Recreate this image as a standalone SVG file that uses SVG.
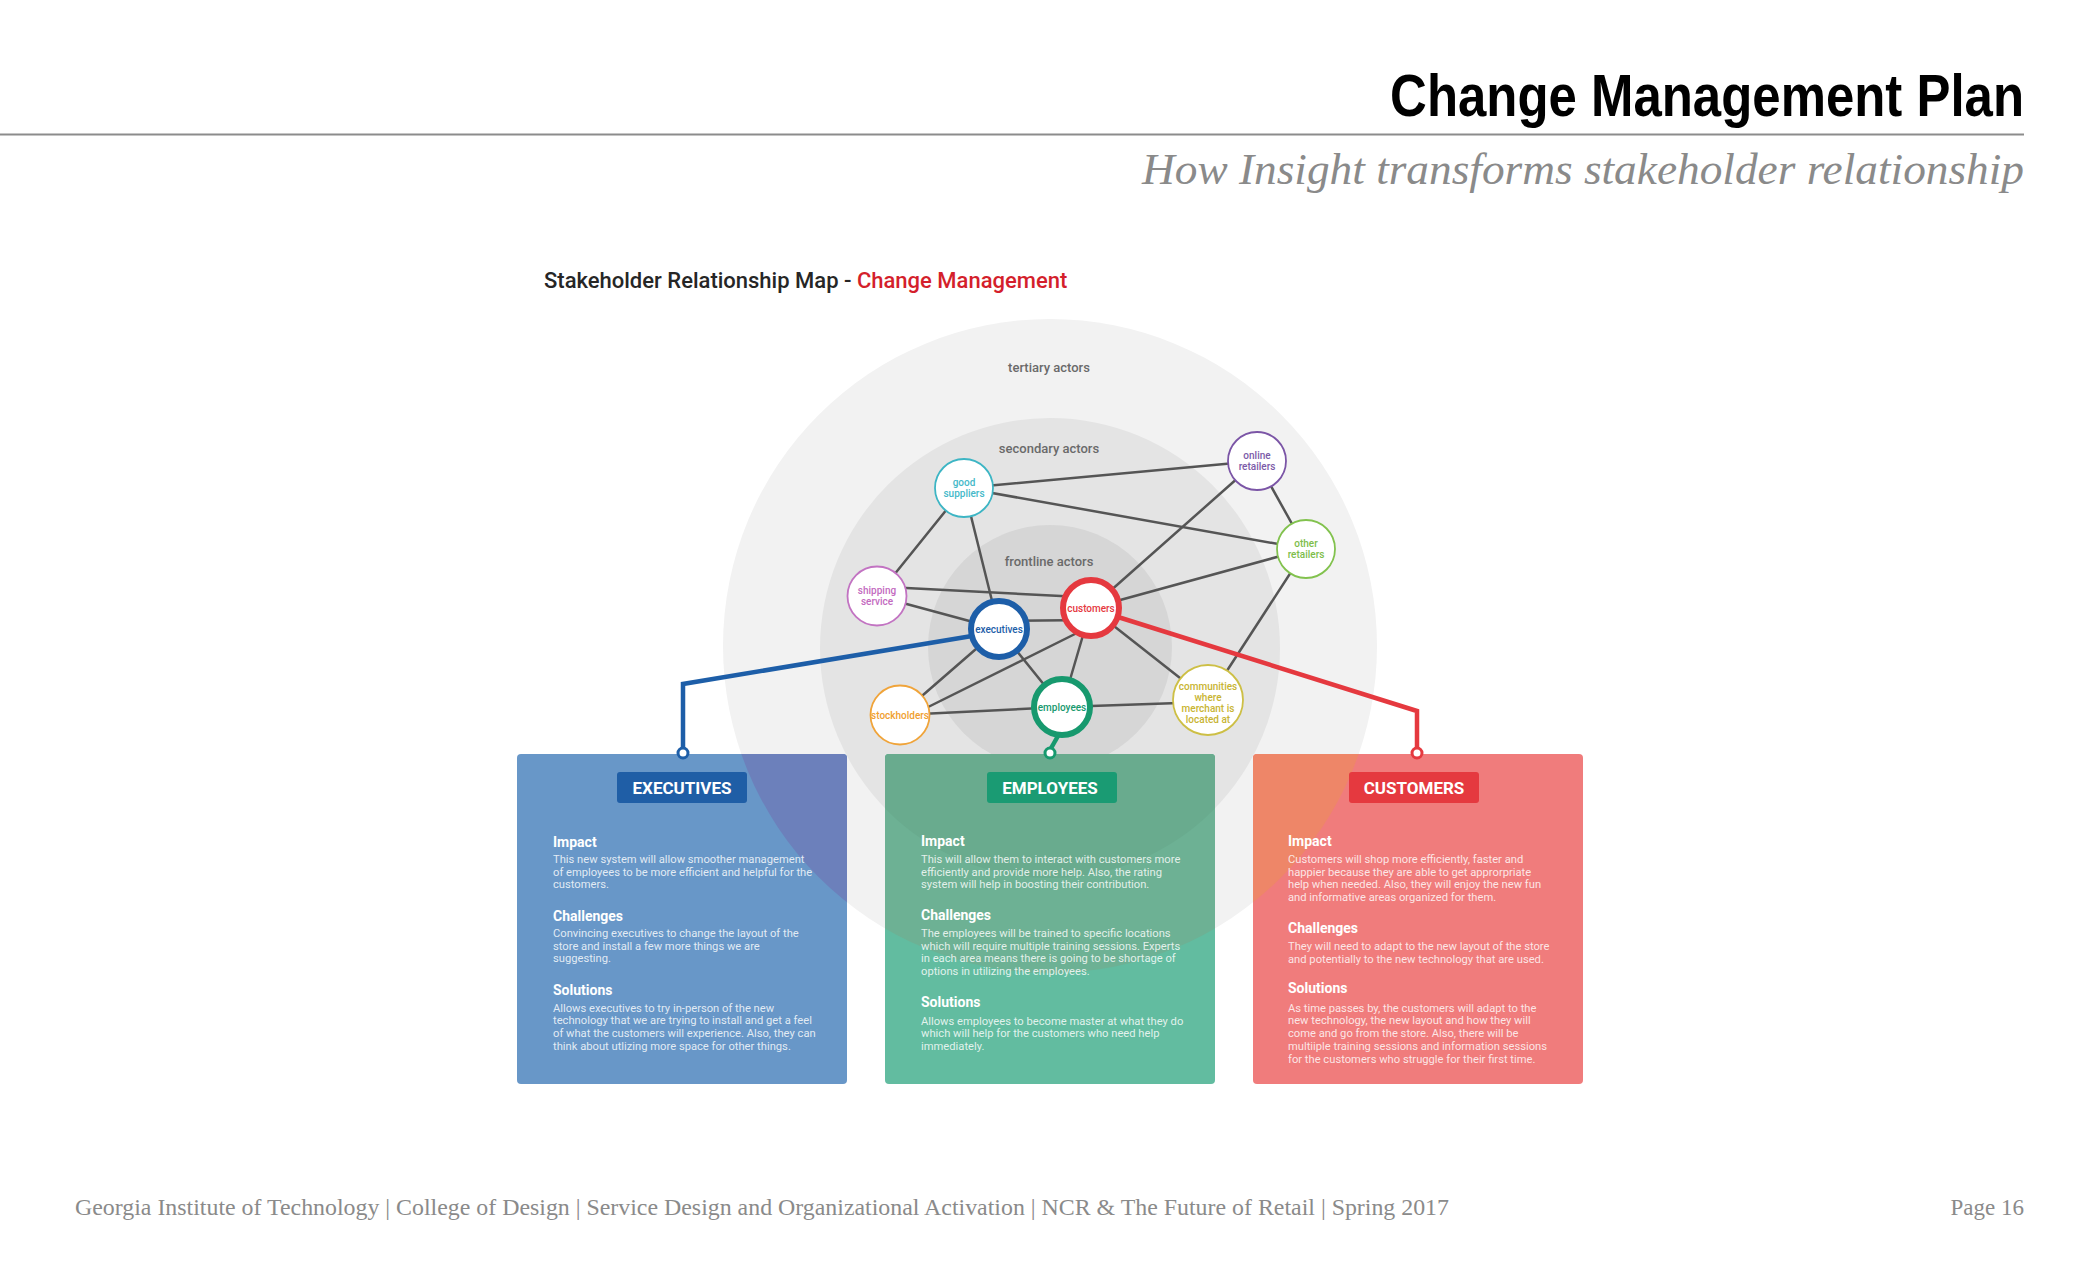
<svg xmlns="http://www.w3.org/2000/svg" width="2100" height="1275" viewBox="0 0 2100 1275">
<defs>
<style>
.title{font-family:"Liberation Sans",Arial,sans-serif;font-size:60px;font-weight:bold;fill:#000}
.subtitle{font-family:"Liberation Serif","Times New Roman",serif;font-style:italic;font-size:44px;fill:#8a8a8a}
.footer{font-family:"Liberation Serif","Times New Roman",serif;font-size:23px;fill:#8a8a8a}
.hdr{font-family:Roboto,"Liberation Sans",sans-serif;font-size:22px;font-weight:500;fill:#262626}
.ring{font-family:Roboto,"Liberation Sans",sans-serif;font-size:13px;font-weight:500;fill:#6a6a6a;text-anchor:middle}
.nl{font-family:Roboto,"Liberation Sans",sans-serif;font-size:10px;font-weight:500;text-anchor:middle}
.edge{stroke:#555;stroke-width:2.5;fill:none;stroke-linecap:round}
.thin{fill:#fff;stroke-width:1.8}
.thick{fill:#fff;stroke-width:6}
.badge{font-family:Roboto,"Liberation Sans",sans-serif;font-size:17px;font-weight:700;fill:#fff;text-anchor:middle}
.h{font-family:Roboto,"Liberation Sans",sans-serif;font-size:14px;font-weight:700;fill:#fff}
.b{font-family:Roboto,"Liberation Sans",sans-serif;font-size:11.2px;fill:#fff;fill-opacity:0.82}
.dot{fill:#fff;stroke-width:3}
</style>
<clipPath id="cOuter"><circle cx="1050" cy="646" r="327"/></clipPath>
<clipPath id="cSec"><circle cx="1050" cy="648" r="230"/></clipPath>
</defs>
<rect width="2100" height="1275" fill="#fff"/>

<g id="header">
<text class="title" transform="translate(2024,116) scale(0.849,1)" x="0" y="0" text-anchor="end">Change Management Plan</text>
<line x1="0" y1="134.5" x2="2024" y2="134.5" stroke="#8c8c8c" stroke-width="2"/>
<text class="subtitle" x="2024" y="184" text-anchor="end" textLength="882" lengthAdjust="spacingAndGlyphs">How Insight transforms stakeholder relationship</text>
</g>

<g id="map-title">
<text class="hdr" x="544" y="288">Stakeholder Relationship Map - <tspan fill="#d41f2c">Change Management</tspan></text>
</g>

<g id="rings">
<circle cx="1050" cy="646" r="327" fill="#f2f2f2"/>
<circle cx="1050" cy="648" r="230" fill="#e4e4e4"/>
<circle cx="1050" cy="647" r="122" fill="#d6d6d6"/>
<text class="ring" x="1049" y="372">tertiary actors</text>
<text class="ring" x="1049" y="453">secondary actors</text>
<text class="ring" x="1049" y="566">frontline actors</text>
</g>

<g id="connectors">
<line class="edge" x1="964" y1="488" x2="1257" y2="461"/>
<line class="edge" x1="964" y1="488" x2="1306" y2="549"/>
<line class="edge" x1="964" y1="488" x2="877" y2="596"/>
<line class="edge" x1="964" y1="488" x2="999" y2="629"/>
<line class="edge" x1="1257" y1="461" x2="1091" y2="608"/>
<line class="edge" x1="1257" y1="461" x2="1306" y2="549"/>
<line class="edge" x1="1306" y1="549" x2="1091" y2="608"/>
<line class="edge" x1="1306" y1="549" x2="1208" y2="700"/>
<line class="edge" x1="877" y1="586.5" x2="1091" y2="597.5"/>
<line class="edge" x1="877" y1="596" x2="999" y2="629"/>
<line class="edge" x1="999" y1="621" x2="1091" y2="620"/>
<line class="edge" x1="999" y1="629" x2="900" y2="715"/>
<line class="edge" x1="999" y1="629" x2="1062" y2="707"/>
<line class="edge" x1="1091" y1="626" x2="900" y2="721"/>
<line class="edge" x1="1091" y1="608" x2="1062" y2="707"/>
<line class="edge" x1="1091" y1="608" x2="1208" y2="700"/>
<line class="edge" x1="900" y1="715" x2="1062" y2="707"/>
<line class="edge" x1="1062" y1="707" x2="1208" y2="702"/>
<polyline points="972,636 683,684 683,748" fill="none" stroke="#1d5ea8" stroke-width="4.5"/>
<polyline points="1118,617 1417,711 1417,748" fill="none" stroke="#e5393f" stroke-width="4.5"/>
<line x1="1058" y1="736" x2="1050" y2="750" stroke="#17996e" stroke-width="4.5"/>
</g>

<g id="node-good-suppliers">
<circle class="thin" cx="964" cy="488" r="29" stroke="#3db5c4"/>
<text class="nl" fill="#45b9c9"><tspan x="964" y="486">good</tspan><tspan x="964" y="497">suppliers</tspan></text>
</g>
<g id="node-online-retailers">
<circle class="thin" cx="1257" cy="461" r="29" stroke="#7b55a6"/>
<text class="nl" fill="#7b5aa8"><tspan x="1257" y="459">online</tspan><tspan x="1257" y="470">retailers</tspan></text>
</g>
<g id="node-other-retailers">
<circle class="thin" cx="1306" cy="549" r="29" stroke="#82c24e"/>
<text class="nl" fill="#7dbd4a"><tspan x="1306" y="547">other</tspan><tspan x="1306" y="558">retailers</tspan></text>
</g>
<g id="node-shipping-service">
<circle class="thin" cx="877" cy="596" r="29.5" stroke="#c273c2"/>
<text class="nl" fill="#c36ac0"><tspan x="877" y="594">shipping</tspan><tspan x="877" y="605">service</tspan></text>
</g>
<g id="node-stockholders">
<circle class="thin" cx="900" cy="715" r="29.5" stroke="#f0a43a"/>
<text class="nl" fill="#f0a030" x="900" y="718.5">stockholders</text>
</g>
<g id="node-communities">
<circle class="thin" cx="1208" cy="700" r="35" stroke="#cdbf45"/>
<text class="nl" fill="#c8b432"><tspan x="1208" y="690">communities</tspan><tspan x="1208" y="701">where</tspan><tspan x="1208" y="712">merchant is</tspan><tspan x="1208" y="723">located at</tspan></text>
</g>
<g id="node-executives">
<circle class="thick" cx="999" cy="629" r="28" stroke="#1d5ea8"/>
<text class="nl" fill="#1d5ea8" x="999" y="632.5">executives</text>
</g>
<g id="node-customers">
<circle class="thick" cx="1091" cy="608" r="28" stroke="#e5393f"/>
<text class="nl" fill="#e5393f" x="1091" y="611.5">customers</text>
</g>
<g id="node-employees">
<circle class="thick" cx="1062" cy="707" r="28" stroke="#17996e"/>
<text class="nl" fill="#17996e" x="1062" y="710.5">employees</text>
</g>

<g id="card-executives">
<rect x="517" y="754" width="330" height="330" rx="4" fill="#6897c8"/>
<rect x="517" y="754" width="330" height="330" rx="4" fill="#6c80bb" clip-path="url(#cOuter)"/>
<rect x="617" y="772" width="130" height="31" rx="3" fill="#1f5ea6"/>
<text class="badge" x="682" y="794">EXECUTIVES</text>
<text class="h" x="553" y="847">Impact</text>
<text class="b"><tspan x="553" y="863">This new system will allow smoother management</tspan><tspan x="553" y="876">of employees to be more efficient and helpful for the</tspan><tspan x="553" y="888">customers.</tspan></text>
<text class="h" x="553" y="921">Challenges</text>
<text class="b"><tspan x="553" y="937">Convincing executives to change the layout of the</tspan><tspan x="553" y="950">store and install a few more things we are</tspan><tspan x="553" y="962">suggesting.</tspan></text>
<text class="h" x="553" y="995">Solutions</text>
<text class="b"><tspan x="553" y="1012">Allows executives to try in-person of the new</tspan><tspan x="553" y="1024">technology that we are trying to install and get a feel</tspan><tspan x="553" y="1037">of what the customers will experience. Also, they can</tspan><tspan x="553" y="1050">think about utlizing more space for other things.</tspan></text>
<circle class="dot" cx="683" cy="753" r="5" stroke="#1d5ea8"/>
</g>

<g id="card-employees">
<rect x="885" y="754" width="330" height="330" rx="4" fill="#62bca0"/>
<rect x="885" y="754" width="330" height="330" rx="4" fill="#6db194" clip-path="url(#cOuter)"/>
<rect x="885" y="754" width="330" height="330" rx="4" fill="#69ab8e" clip-path="url(#cSec)"/>
<rect x="987" y="772" width="130" height="31" rx="3" fill="#1a9b73"/>
<text class="badge" x="1050" y="794">EMPLOYEES</text>
<text class="h" x="921" y="846">Impact</text>
<text class="b"><tspan x="921" y="863">This will allow them to interact with customers more</tspan><tspan x="921" y="876">efficiently and provide more help. Also, the rating</tspan><tspan x="921" y="888">system will help in boosting their contribution.</tspan></text>
<text class="h" x="921" y="920">Challenges</text>
<text class="b"><tspan x="921" y="937">The employees will be trained to specific locations</tspan><tspan x="921" y="950">which will require multiple training sessions. Experts</tspan><tspan x="921" y="962">in each area means there is going to be shortage of</tspan><tspan x="921" y="975">options in utilizing the employees.</tspan></text>
<text class="h" x="921" y="1007">Solutions</text>
<text class="b"><tspan x="921" y="1025">Allows employees to become master at what they do</tspan><tspan x="921" y="1037">which will help for the customers who need help</tspan><tspan x="921" y="1050">immediately.</tspan></text>
<circle class="dot" cx="1050" cy="753" r="5" stroke="#17996e"/>
</g>

<g id="card-customers">
<rect x="1253" y="754" width="330" height="330" rx="4" fill="#f07c7c"/>
<rect x="1253" y="754" width="330" height="330" rx="4" fill="#ee8668" clip-path="url(#cOuter)"/>
<rect x="1349" y="772" width="130" height="31" rx="3" fill="#e5393f"/>
<text class="badge" x="1414" y="794">CUSTOMERS</text>
<text class="h" x="1288" y="846">Impact</text>
<text class="b"><tspan x="1288" y="863">Customers will shop more efficiently, faster and</tspan><tspan x="1288" y="876">happier because they are able to get approrpriate</tspan><tspan x="1288" y="888">help when needed. Also, they will enjoy the new fun</tspan><tspan x="1288" y="901">and informative areas organized for them.</tspan></text>
<text class="h" x="1288" y="933">Challenges</text>
<text class="b"><tspan x="1288" y="950">They will need to adapt to the new layout of the store</tspan><tspan x="1288" y="963">and potentially to the new technology that are used.</tspan></text>
<text class="h" x="1288" y="993">Solutions</text>
<text class="b"><tspan x="1288" y="1012">As time passes by, the customers will adapt to the</tspan><tspan x="1288" y="1024">new technology, the new layout and how they will</tspan><tspan x="1288" y="1037">come and go from the store. Also, there will be</tspan><tspan x="1288" y="1050">multiiple training sessions and information sessions</tspan><tspan x="1288" y="1063">for the customers who struggle for their first time.</tspan></text>
<circle class="dot" cx="1417" cy="753" r="5" stroke="#e5393f"/>
</g>

<g id="footer">
<text class="footer" x="75" y="1215" textLength="1374" lengthAdjust="spacingAndGlyphs">Georgia Institute of Technology | College of Design | Service Design and Organizational Activation | NCR &amp; The Future of Retail | Spring 2017</text>
<text class="footer" x="2024" y="1215" text-anchor="end">Page 16</text>
</g>
</svg>
